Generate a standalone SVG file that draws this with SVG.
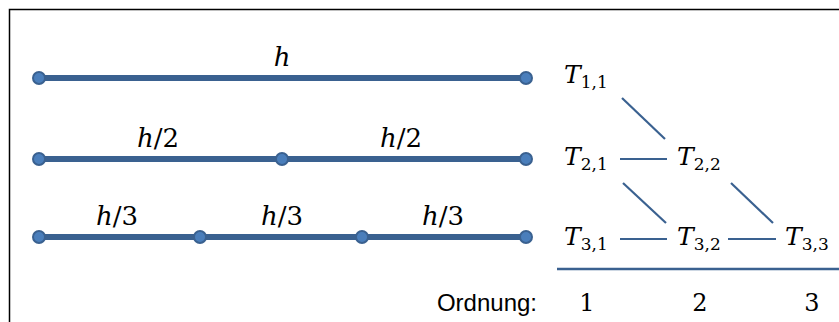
<svg xmlns="http://www.w3.org/2000/svg" width="839" height="322" viewBox="0 0 839 322">
<style>
.bar{stroke:#3a6190;stroke-width:6;fill:none}
.dot{fill:#4a7ebb;stroke:#3a6190;stroke-width:2}
.con{stroke:#3a6190;stroke-width:2.2;fill:none}
</style>
<rect x="9.5" y="9.5" width="840" height="330" fill="#fff" stroke="#000" stroke-width="1.5"/>
<g id="row1">
<line class="bar" x1="39" y1="78" x2="526" y2="78"/>
<circle class="dot" cx="39" cy="78" r="6"/>
<circle class="dot" cx="526" cy="78" r="6"/>
<text font-family="DejaVu Serif" font-size="26" font-style="italic" x="282" y="66" text-anchor="middle">h</text>
</g>
<g id="row2" font-family="DejaVu Serif" font-size="26">
<line class="bar" x1="39" y1="159" x2="526" y2="159"/>
<circle class="dot" cx="39" cy="159" r="6"/>
<circle class="dot" cx="282" cy="159" r="6"/>
<circle class="dot" cx="526" cy="159" r="6"/>
<text x="158" y="147" text-anchor="middle"><tspan font-style="italic">h</tspan>/2</text>
<text x="401" y="147" text-anchor="middle"><tspan font-style="italic">h</tspan>/2</text>
</g>
<g id="row3" font-family="DejaVu Serif" font-size="26">
<line class="bar" x1="39" y1="237" x2="526" y2="237"/>
<circle class="dot" cx="39" cy="237" r="6"/>
<circle class="dot" cx="200" cy="237" r="6"/>
<circle class="dot" cx="362" cy="237" r="6"/>
<circle class="dot" cx="526" cy="237" r="6"/>
<text x="117" y="225" text-anchor="middle"><tspan font-style="italic">h</tspan>/3</text>
<text x="282" y="225" text-anchor="middle"><tspan font-style="italic">h</tspan>/3</text>
<text x="443" y="225" text-anchor="middle"><tspan font-style="italic">h</tspan>/3</text>
</g>
<g font-family="DejaVu Serif" font-size="25">
<g id="T11"><text x="564" y="83"><tspan font-style="italic">T</tspan><tspan font-size="17" dy="5">1,1</tspan></text></g>
<g id="T21"><text x="564" y="165"><tspan font-style="italic">T</tspan><tspan font-size="17" dy="5">2,1</tspan></text></g>
<g id="T22"><text x="677" y="165"><tspan font-style="italic">T</tspan><tspan font-size="17" dy="5">2,2</tspan></text></g>
<g id="T31"><text x="564" y="245"><tspan font-style="italic">T</tspan><tspan font-size="17" dy="5">3,1</tspan></text></g>
<g id="T32"><text x="677" y="245"><tspan font-style="italic">T</tspan><tspan font-size="17" dy="5">3,2</tspan></text></g>
<g id="T33"><text x="785" y="245"><tspan font-style="italic">T</tspan><tspan font-size="17" dy="5">3,3</tspan></text></g>
</g>
<g id="connectors">
<line class="con" x1="622" y1="98" x2="665" y2="139"/>
<line class="con" x1="620" y1="159" x2="667" y2="159"/>
<line class="con" x1="623" y1="183" x2="666" y2="223"/>
<line class="con" x1="731" y1="183" x2="773" y2="223"/>
<line class="con" x1="620" y1="239" x2="667" y2="239"/>
<line class="con" x1="728" y1="239" x2="776" y2="239"/>
</g>
<g id="axis">
<line x1="557" y1="269" x2="839" y2="269" stroke="#3a6190" stroke-width="2.5"/>
<text font-family="Liberation Sans" font-size="24" x="537" y="311" text-anchor="end">Ordnung:</text>
<g font-family="DejaVu Serif" font-size="24" text-anchor="middle">
<text x="587" y="311">1</text>
<text x="700" y="311">2</text>
<text x="812" y="311">3</text>
</g>
</g>
</svg>
